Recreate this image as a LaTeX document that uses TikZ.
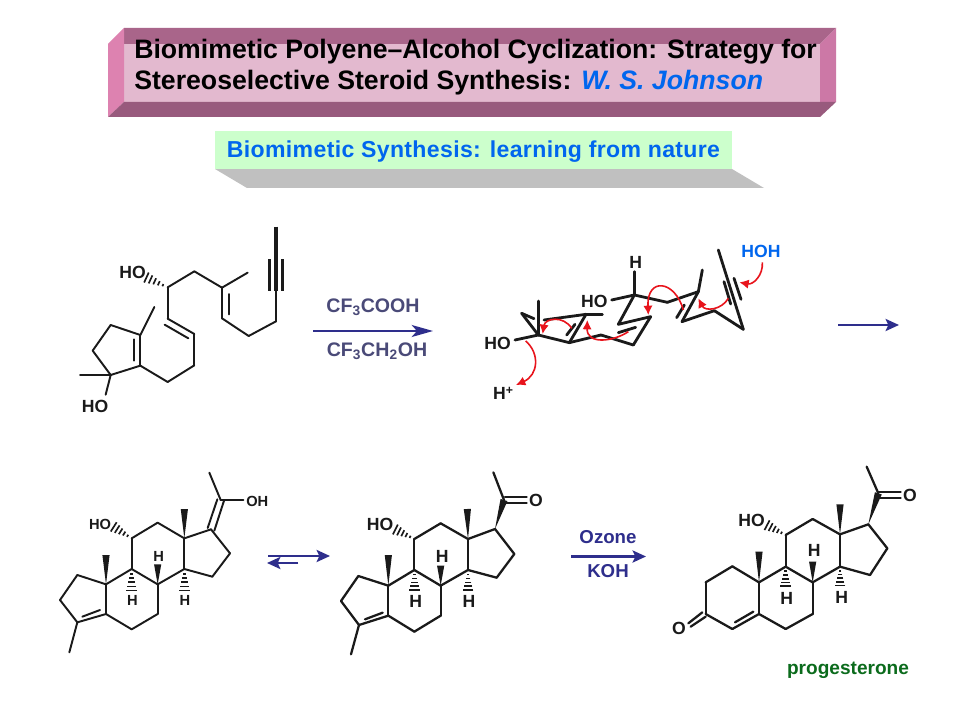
\documentclass[tikz,border=0pt]{standalone}
\usepackage{fontspec}
\setmainfont{Liberation Sans}
\usetikzlibrary{calc,arrows.meta}
\definecolor{faceC}{HTML}{E3B9CF}
\definecolor{topC}{HTML}{A9658A}
\definecolor{leftC}{HTML}{DD82B0}
\definecolor{rightC}{HTML}{CC78A6}
\definecolor{bottomC}{HTML}{985A7D}
\definecolor{mintC}{HTML}{CCFFCC}
\definecolor{shadeC}{HTML}{C0C0C0}
\definecolor{linkC}{HTML}{0066EE}
\definecolor{navyC}{HTML}{2E2E8C}
\definecolor{slateC}{HTML}{4A4A78}
\definecolor{greenC}{HTML}{0B6B1C}
\definecolor{redC}{HTML}{E8141C}
\definecolor{inkC}{HTML}{1A1A1A}
\tikzset{
  bond/.style={draw=inkC,line width=1.7pt,line cap=round,line join=round},
  thinbond/.style={draw=inkC,line width=1.45pt,line cap=round,line join=round},
  fatbond/.style={draw=inkC,line width=2.1pt,line cap=round,line join=round},
  atom/.style={font=\fontsize{13.2}{15}\selectfont\bfseries,text=inkC,inner sep=0pt},
  smallatom/.style={font=\fontsize{11}{13}\selectfont\bfseries,text=inkC,inner sep=0pt},
  reagent/.style={font=\fontsize{14.7}{17}\selectfont\bfseries,text=slateC,inner sep=0pt},
  oxidant/.style={font=\fontsize{14}{17}\selectfont\bfseries,text=navyC,inner sep=0pt},
  reactarrow/.style={draw=navyC,fill=navyC,line width=1.9pt,-{Stealth[length=10pt,width=9pt,inset=2pt]}},
  curlyarrow/.style={draw=redC,line width=1.2pt,-{Latex[length=7pt,width=7pt]}},
}
% wedge and hashed bonds, narrow end at the first atom
\newcommand{\wedgebond}[2]{\fill[inkC] (#1) -- ($(#2)!2.7pt!90:(#1)$) -- ($(#2)!2.7pt!-90:(#1)$) -- cycle;}
\newcommand{\hashbond}[2]{\foreach \p in {0.22,0.41,0.6,0.79,0.98}
  \draw[inkC,line width=1.25pt] ($(#1)!\p!(#2)!{\p*4.2pt}!90:(#2)$) -- ($(#1)!\p!(#2)!{\p*4.2pt}!-90:(#2)$);}
% rings B, C and D of the steroid
\newcommand{\steroidbonds}[2]{\foreach \a/\b in {5/6,6/7,7/8,8/9,9/10,10/5,9/11,11/12,12/13,13/14,14/8,14/15,15/16,16/17,17/13}
  \draw[#2] (#1\a) -- (#1\b);}
\begin{document}
\begin{tikzpicture}[x=0.75pt,y=-0.75pt]
    \useasboundingbox (0,0) rectangle (960,720);
    \fill[white] (0,0) rectangle (960,720);

    % Draw title banner
    \fill[faceC] (124,44) rectangle (820,102);
    \fill[topC] (124,28) -- (836,28) -- (820,44) -- (124,44) -- cycle;
    \fill[leftC] (108,44) -- (124,28) -- (124,102) -- (108,117) -- cycle;
    \fill[rightC] (820,44) -- (836,28) -- (836,102) -- (820,102) -- cycle;
    \fill[bottomC] (108,117) -- (124,102) -- (836,102) -- (820,117) -- cycle;
    \node[anchor=base west,inner sep=0pt,font=\fontsize{20}{23}\selectfont\bfseries] (title1) at (134,58.5)
      {Biomimetic Polyene–Alcohol Cyclization: Strategy for};
    \node[anchor=base west,inner sep=0pt,font=\fontsize{20}{23}\selectfont\bfseries] (title2) at (134,90)
      {Stereoselective Steroid Synthesis: \textcolor{linkC}{\itshape W. S. Johnson}};

    % Draw subtitle
    \fill[shadeC] (215,169) -- (732,169) -- (764,188) -- (247,188) -- cycle;
    \fill[mintC] (215,131) rectangle (732,169);
    \node[inner sep=0pt,text=linkC,font=\fontsize{17.3}{20}\selectfont\bfseries,anchor=base] (subtitle) at (473.5,157.5)
      {\addfontfeatures{LetterSpace=1.5}Biomimetic Synthesis: learning from nature};

    % Draw open chain diol
    \begin{scope}[shift={(60,220)},x=0.25pt,y=-0.25pt]
      \foreach \n/\x/\y in {a1/648/20,a2/648/212,a3/648/304,a4/566/348,a5/486/295,a6/486/203,a7/563/158,a8/403/154,a9/323/202,
        a10/323/296,a11/403/342,a12/403/436,a13/323/486,a14/241/437,a15/241/345,a16/283/261,a17/152/315,a18/98/392,a19/152/465,
        a20/60/465,a21/137/524,a22/629/118,a23/629/212,a24/668/118,a25/668/212,a26/507/222,a27/507/283,a28/314/314,a29/385/355,
        a30/222/358,a31/222/422,a32/258/172}
        \coordinate (\n) at (\x,\y);
      \foreach \a/\b in {2/3,3/4,4/5,5/6,6/7,6/8,8/9,9/10,10/11,11/12,12/13,13/14,14/15,15/16,15/17,17/18,18/19,19/14,19/20,19/21,26/27,28/29,30/31}
        \draw[thinbond] (a\a) -- (a\b);
      \draw[fatbond,line width=2.8pt,line cap=butt] (a1) -- (a2);
      \draw[fatbond,line cap=butt] (a22) -- (a23);
      \draw[fatbond,line cap=butt] (a24) -- (a25);
      \hashbond{a9}{a32}
      \node[atom] (hoa) at (218,158) {HO};
      \node[atom] (hob) at (105,558) {HO};
    \end{scope}

    % Draw first reaction arrow
    \coordinate (rxna) at (313,331);
    \coordinate (rxnb) at (433,331);
    \draw[reactarrow,line width=1.5pt,-{Stealth[length=16pt,width=9pt,inset=4pt]}] (rxna) -- (rxnb);
    \node[reagent] (acid) at (373,307) {CF\textsubscript{3}COOH};
    \node[reagent] (solvent) at (377,351) {CF\textsubscript{3}CH\textsubscript{2}OH};

    % Draw folded conformer
    \begin{scope}[shift={(470,230)},x=0.25pt,y=-0.25pt]
      \foreach \n/\x/\y in {b1/745/60,b2/820/298,b3/733/242,b4/636/275,b5/685/185,b6/697/120,b7/592/217,b8/493/195,b9/493/125,
        b10/425/210,b11/445/283,b12/542/260,b13/490/345,b14/393/315,b15/298/338,b16/348/253,b17/397/253,b18/222/270,b19/155/250,
        b20/205/315,b21/205/213,b22/135/330,b23/762/155,b24/782/222,b25/792/145,b26/813/208,b27/620/263,b28/643/225,
        b29/445/308,b30/497/292,b31/290/315,b32/315/283,b33/192/266}
        \coordinate (\n) at (\x,\y);
      \foreach \a/\b in {1/2,2/3,3/4,4/5,5/6,5/7,7/8,8/9,8/10,8/11,11/12,12/13,13/14,14/15,15/16,16/17,16/18,33/19,19/20,20/21,20/15,20/22,23/24,25/26,27/28,29/30,31/32}
        \draw[fatbond] (b\a) -- (b\b);
      \node[atom] (hoc) at (373,215) {HO};
      \node[atom] (hod) at (83,340) {HO};
      \node[atom] (hyd) at (497,97) {H};
      \node[atom] (prot) at (100,490) {H\textsuperscript{+}};
      \node[atom,text=linkC] (water) at (873,65) {HOH};
      % curly arrows
      \coordinate (c1a) at (877,97);
      \coordinate (c1b) at (808,157);
      \coordinate (c2a) at (775,205);
      \coordinate (c2b) at (685,205);
      \coordinate (c3a) at (640,240);
      \coordinate (c3b) at (535,255);
      \coordinate (c4a) at (475,305);
      \coordinate (c4b) at (352,270);
      \coordinate (c5a) at (305,295);
      \coordinate (c5b) at (218,312);
      \coordinate (c6a) at (167,333);
      \coordinate (c6b) at (138,465);
      \draw[curlyarrow] (c1a) .. controls (880,135) and (850,165) .. (c1b);
      \draw[curlyarrow] (c2a) .. controls (755,240) and (705,245) .. (c2b);
      \draw[curlyarrow] (c3a) .. controls (615,150) and (530,140) .. (c3b);
      \draw[curlyarrow] (c4a) .. controls (430,335) and (350,345) .. (c4b);
      \draw[curlyarrow] (c5a) .. controls (280,255) and (225,265) .. (c5b);
      \draw[curlyarrow] (c6a) .. controls (210,370) and (205,435) .. (c6b);
    \end{scope}

    % Draw second arrow
    \coordinate (rxnc) at (838,325);
    \coordinate (rxnd) at (899,325);
    \draw[reactarrow] (rxnc) -- (rxnd);

    % Draw enol tetracycle
    \begin{scope}[shift={(50,460)},x=0.25pt,y=-0.25pt]
      \foreach \n/\x/\y in {c10/168/373,c1/82/345,c2/30/420,c3/82/487,c5/168/462,c6/245/508,c7/323/462,c8/323/373,c9/245/327,
        c11/245/235,c12/323/188,c13/403/235,c14/403/327,c15/487/350,c16/540/280,c17/483/208,c18/403/147,c19/168/285,c20/512/120,
        c21/478/38,c22/580/120,c23/58/577,c24/97/470,c25/150/450,c26/245/393,c27/323/313,c28/403/393,c29/190/200,
        c30/473/204,c31/502/118,c32/493/212,c33/522/122}
        \coordinate (\n) at (\x,\y);
      \steroidbonds{c}{thinbond}
      \foreach \a/\b in {10/1,1/2,2/3,3/5,3/23,24/25,30/31,32/33,20/21,20/22}
        \draw[thinbond] (c\a) -- (c\b);
      \wedgebond{c10}{c19}
      \wedgebond{c13}{c18}
      \wedgebond{c8}{c27}
      \hashbond{c9}{c26}
      \hashbond{c14}{c28}
      \hashbond{c11}{c29}
      \node[smallatom] (hoe) at (150,193) {HO};
      \node[smallatom] (ohe) at (622,124) {OH};
      \node[smallatom] (he1) at (247,422) {H};
      \node[smallatom] (he2) at (326,288) {H};
      \node[smallatom] (he3) at (405,422) {H};
    \end{scope}

    % Draw equilibrium arrows
    \coordinate (eqa) at (268,556);
    \coordinate (eqb) at (330,556);
    \coordinate (eqc) at (298,563);
    \coordinate (eqd) at (267,563);
    \draw[reactarrow] (eqa) -- (eqb);
    \draw[reactarrow] (eqc) -- (eqd);

    % Draw keto tetracycle
    \begin{scope}[shift={(330,460)},x=0.25pt,y=-0.25pt]
      \foreach \n/\x/\y in {d10/175/377,d1/85/348,d2/33/423,d3/87/495,d5/175/467,d6/253/515,d7/332/467,d8/332/377,d9/253/330,
        d11/253/237,d12/332/190,d13/414/237,d14/414/330,d15/500/353,d16/553/282,d17/495/207,d18/412/147,d19/175/285,d20/522/120,
        d21/490/37,d23/63/583,d24/105/478,d25/158/458,d26/253/392,d27/332/317,d28/414/392,d29/195/208,
        d30/525/112,d31/590/112,d32/525/130,d33/590/130}
        \coordinate (\n) at (\x,\y);
      \steroidbonds{d}{bond}
      \foreach \a/\b in {10/1,1/2,2/3,3/5,3/23,24/25,30/31,32/33,20/21}
        \draw[bond] (d\a) -- (d\b);
      \wedgebond{d10}{d19}
      \wedgebond{d13}{d18}
      \wedgebond{d8}{d27}
      \wedgebond{d17}{d20}
      \hashbond{d9}{d26}
      \hashbond{d14}{d28}
      \hashbond{d11}{d29}
      \node[atom] (hof) at (150,192) {HO};
      \node[atom] (oxf) at (618,120) {O};
      \node[atom] (hf1) at (257,424) {H};
      \node[atom] (hf2) at (337,290) {H};
      \node[atom] (hf3) at (417,424) {H};
    \end{scope}

    % Draw oxidation arrow
    \coordinate (oxa) at (571,556.5);
    \coordinate (oxb) at (646,556.5);
    \draw[reactarrow,line width=2pt] (oxa) -- (oxb);
    \node[oxidant] (ozone) at (608,537) {Ozone};
    \node[oxidant] (koh) at (608,571) {KOH};

    % Draw progesterone
    \begin{scope}[shift={(660,460)},x=0.25pt,y=-0.25pt]
      \foreach \n/\x/\y in {e10/297/367,e1/217/319,e2/137/367,e3/137/462,e4/217/507,e5/297/462,e6/377/507,e7/458/462,e8/458/367,
        e9/377/320,e11/377/225,e12/458/177,e13/540/223,e14/540/320,e15/630/345,e16/682/265,e17/625/193,e18/540/133,e19/297/275,
        e20/655/100,e21/620/20,e24/225/487,e25/280/455,e26/377/380,e27/458/305,e28/540/378,e29/320/195,
        e30/655/95,e31/722/95,e32/655/113,e33/722/113,e34/85/490,e35/127/457,e36/92/500,e37/137/470}
        \coordinate (\n) at (\x,\y);
      \steroidbonds{e}{bond}
      \foreach \a/\b in {10/1,1/2,2/3,3/4,4/5,24/25,30/31,32/33,20/21,34/35,36/37}
        \draw[bond] (e\a) -- (e\b);
      \wedgebond{e10}{e19}
      \wedgebond{e13}{e18}
      \wedgebond{e8}{e27}
      \wedgebond{e17}{e20}
      \hashbond{e9}{e26}
      \hashbond{e14}{e28}
      \hashbond{e11}{e29}
      \node[atom] (hog) at (275,180) {HO};
      \node[atom] (oxg) at (750,105) {O};
      \node[atom] (oxh) at (57,505) {O};
      \node[atom] (hg1) at (380,415) {H};
      \node[atom] (hg2) at (463,272) {H};
      \node[atom] (hg3) at (545,413) {H};
    \end{scope}
    \node[inner sep=0pt,text=greenC,font=\fontsize{14.3}{17}\selectfont\bfseries] (progesterone) at (848,670) {progesterone};
\end{tikzpicture}
\end{document}
